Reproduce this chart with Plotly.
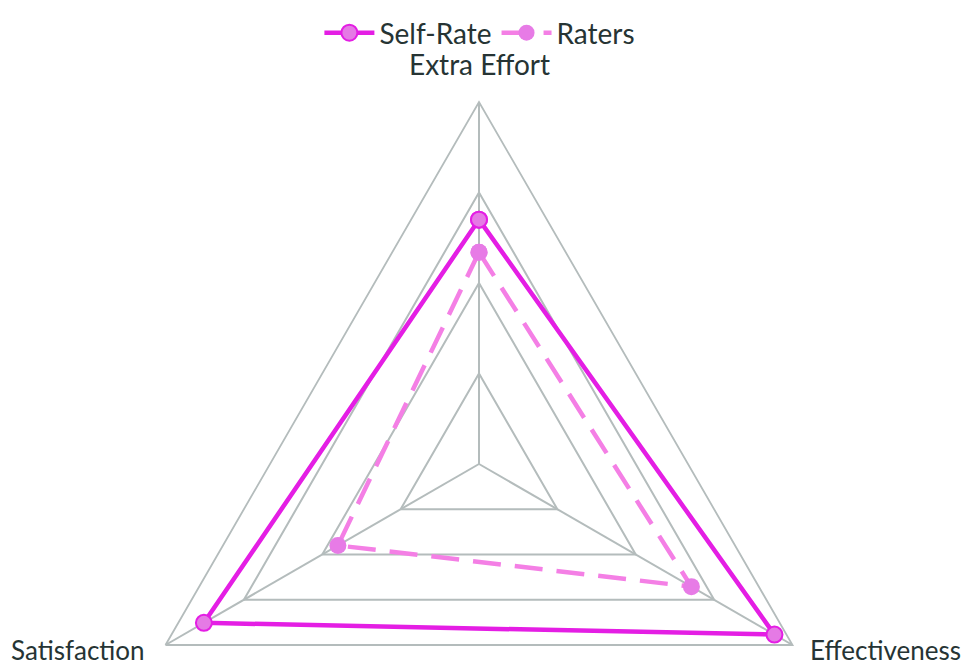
import plotly.graph_objects as go

# Radar categories, clockwise from the top
categories = ['Extra Effort', 'Effectiveness', 'Satisfaction']

# Scores (scale 0-4)
self_rate = [2.70, 3.77, 3.51]
raters = [2.34, 2.71, 1.80]

grid_levels = [1, 2, 3, 4]

TEXT_COLOR = '#263434'
GRID_COLOR = '#b4bcbc'
FONT = 'Lato, "Open Sans", sans-serif'

W, H = 967, 830


def closed(values):
    return values + values[:1]


fig = go.Figure()

fig.add_trace(go.Scatterpolar(
    r=closed(self_rate), theta=closed(categories),
    name='Self-Rate', mode='lines+markers',
    line=dict(color='#e41ee4', width=4.5),
    marker=dict(size=16, color='#e57ae5', line=dict(color='#e41ee4', width=2))
))

fig.add_trace(go.Scatterpolar(
    r=closed(raters), theta=closed(categories),
    name='Raters', mode='lines+markers',
    line=dict(color='#f47fe5', width=4.5, dash='28px,14px'),
    marker=dict(size=17, color='#e77be6')
))

# category labels placed beside the triangle vertices, as in the original
label_pos = {
    'Extra Effort': dict(x=0.4871, y=0.9325, xanchor='center', size=28),
    'Effectiveness': dict(x=0.8273, y=0.2265, xanchor='left', size=26),
    'Satisfaction': dict(x=0.1437, y=0.2265, xanchor='right', size=26),
}
for cat in categories:
    p = label_pos[cat]
    fig.add_annotation(text=cat, xref='paper', yref='paper', x=p['x'], y=p['y'],
                       xanchor=p['xanchor'], yanchor='middle', showarrow=False,
                       font=dict(family=FONT, size=p['size'], color=TEXT_COLOR))

fig.update_layout(
    width=W, height=H,
    margin=dict(l=0, r=0, t=0, b=0),
    paper_bgcolor='white',
    font=dict(family=FONT, size=28, color=TEXT_COLOR),
    polar=dict(
        bgcolor='white',
        gridshape='linear',
        domain=dict(x=[109 / W, 833 / W], y=[1 - 818 / H, 1 - 94 / H]),
        radialaxis=dict(range=[0, 4], tickvals=grid_levels, showticklabels=False,
                        ticks='', showline=False, gridcolor=GRID_COLOR, gridwidth=1.8),
        angularaxis=dict(rotation=90, direction='clockwise', ticks='',
                         showticklabels=False,
                         showline=True, linecolor=GRID_COLOR, linewidth=1.8,
                         gridcolor=GRID_COLOR, gridwidth=1.8)
    ),
    legend=dict(orientation='h', x=0.488, xanchor='center', y=1.0, yanchor='top',
                font=dict(family=FONT, size=28, color=TEXT_COLOR),
                bgcolor='rgba(0,0,0,0)', itemwidth=50)
)

fig.write_html("out.html")
